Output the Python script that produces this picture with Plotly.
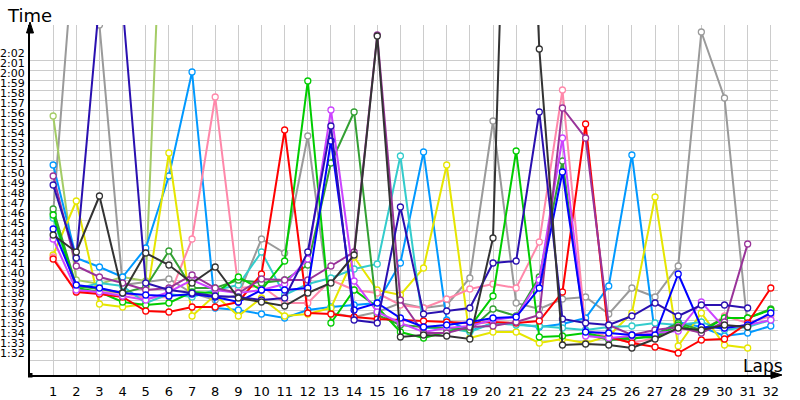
import plotly.graph_objects as go

laps = list(range(1, 33))

red = [102.1,98.8,98.6,98.3,96.9,96.8,97.3,97.3,97.8,100.6,115.0,96.7,96.6,96.3,96.1,96.0,95.9,95.8,95.7,95.8,95.7,95.9,98.8,115.6,94.3,93.7,93.3,92.7,94.0,94.1,95.7,99.2]
green = [106.5,99.2,98.8,97.8,97.5,97.7,98.8,98.7,100.3,99.0,101.9,119.9,95.7,99.0,97.3,94.8,94.2,94.8,95.3,98.4,112.9,94.3,94.4,94.7,94.2,94.2,94.3,95.5,94.8,96.2,96.2,97.0]
dark_green = [107.1,99.4,99.1,98.7,99.3,102.9,99.2,99.2,100.0,99.7,100.0,101.5,111.7,116.8,96.5,95.5,95.3,95.2,95.0,97.1,96.4,100.3,111.9,94.6,94.0,94.1,94.5,95.7,95.0,96.2,96.2,97.1]
blue = [105.1,99.5,99.2,98.7,98.5,98.4,98.6,98.3,97.8,99.0,99.0,99.2,113.9,97.0,97.7,96.2,95.3,95.5,95.8,96.2,96.3,99.2,110.8,94.8,94.7,94.5,94.5,100.6,95.3,95.2,95.5,96.7]
navy = [109.5,102.2,128.0,127.5,99.7,99.0,98.7,98.4,98.3,98.0,98.2,102.8,115.4,96.0,95.7,107.3,96.6,96.9,97.2,101.7,101.9,116.8,96.1,95.7,95.5,96.4,97.7,96.4,97.5,97.5,97.2]
yellow_green = [116.4,100.0,99.6,100.3,99.9,156.2]
light_blue = [111.5,102.2,101.3,100.3,103.2,110.4,120.8,97.2,97.0,96.6,96.2,97.0,97.3,97.5,97.7,101.7,112.8,96.0,94.9,95.7,95.6,95.3,95.6,96.2,99.4,112.5,94.5,95.8,95.3,94.4,94.7,95.4]
cyan = [106.2,99.1,99.7,99.4,97.7,98.6,98.3,99.0,99.5,102.8,98.5,99.6,100.2,101.1,101.6,112.4,95.2,95.2,94.8,95.7,95.5,95.4,95.2,95.0,95.3,95.4,95.7,95.5,95.8,95.0,95.3,96.0]
yellow = [102.5,107.9,97.6,97.3,97.6,112.7,96.4,98.5,96.4,98.2,96.4,96.6,97.2,102.3,99.0,98.5,101.2,111.5,94.2,94.8,94.8,93.7,94.1,93.7,94.4,96.7,108.3,93.4,96.7,93.5,93.2]
pink = [102.3,98.8,98.8,98.7,98.2,98.3,104.1,118.3,99.2,99.4,97.7,97.7,100.0,99.0,98.7,97.5,97.2,98.1,99.1,99.6,99.2,103.8,119.0,95.0,94.3,93.7,94.2,95.2,94.8,96.4,95.7,96.4]
violet = [104.1,99.0,98.8,98.4,98.0,98.8,100.0,99.0,98.7,99.0,99.6,102.1,117.0,99.9,96.8,95.7,94.8,95.2,95.4,96.0,96.3,100.0,114.2,94.4,94.2,94.4,94.7,94.9,97.8,95.2,95.5,96.0]
dark_purple = [110.4,101.4,100.3,99.7,99.0,99.2,100.5,99.2,98.7,100.1,100.0,100.0,101.4,102.8,124.5,98.0,94.7,94.7,95.3,95.4,95.8,96.5,117.2,114.2,95.5,94.5,95.0,95.3,94.7,95.8,103.6]
gray = [106.7,136.2,125.5,99.5,99.8,100.1,98.7,98.0,98.5,104.1,102.7,114.4,96.7,96.3,96.8,97.7,97.2,97.5,100.2,115.9,97.7,97.1,98.1,98.3,96.6,99.2,98.3,101.4,124.8,118.2,95.3]
dark_gray = [104.5,102.8,108.4,98.7,102.7,101.5,99.7,101.3,98.2,97.8,97.4,98.7,99.7,102.5,124.4,94.3,94.5,94.4,94.1,104.2,178.0,123.1,93.5,93.6,93.5,93.2,94.1,95.2,95.0,95.5,95.3]

series = [
    ("Gray", gray, "#9a9a9a"),
    ("Yellow-green", yellow_green, "#a4cc66"),
    ("Light blue", light_blue, "#0099ff"),
    ("Yellow", yellow, "#e6e600"),
    ("Pink", pink, "#ff88aa"),
    ("Cyan", cyan, "#33cccc"),
    ("Dark green", dark_green, "#33a033"),
    ("Green", green, "#00cc00"),
    ("Red", red, "#ff0000"),
    ("Violet", violet, "#cc44ff"),
    ("Dark purple", dark_purple, "#993399"),
    ("Blue", blue, "#0000ff"),
    ("Navy", navy, "#2a10b0"),
    ("Dark gray", dark_gray, "#333333"),
]

tick_secs = list(range(92, 123))
tick_text = [f"{s // 60}:{s % 60:02d}" for s in tick_secs]

fig = go.Figure()
for name, vals, col in series:
    fig.add_trace(go.Scatter(
        x=laps[:len(vals)], y=vals, mode="lines+markers", name=name,
        line=dict(color=col, width=2),
        marker=dict(symbol="circle", size=6, color="white", line=dict(color=col, width=1.3)),
    ))

L, R, T, B = 30, 22, 25, 25
W = 800 - L - R
H = 400 - T - B

fig.update_layout(
    width=800, height=400,
    margin=dict(l=L, r=R, t=T, b=B, pad=0, autoexpand=False),
    paper_bgcolor="white", plot_bgcolor="white",
    showlegend=False,
    font=dict(family="DejaVu Sans", color="black"),
    xaxis=dict(range=[0, W / 23.15], tickvals=laps, ticktext=[str(l) for l in laps],
               showgrid=True, gridcolor="#cccccc", gridwidth=1, zeroline=False,
               showline=True, linecolor="black", linewidth=2, ticks="",
               automargin=False, ticklabelstandoff=3,
               tickfont=dict(size=13, family="DejaVu Sans")),
    yaxis=dict(range=[90.5, 125.5], tickvals=tick_secs, ticktext=tick_text,
               showgrid=True, gridcolor="#cccccc", gridwidth=1, zeroline=False,
               showline=True, linecolor="black", linewidth=2, ticks="",
               automargin=False, ticklabelshift=-7, ticklabelstandoff=1,
               tickfont=dict(size=11, family="DejaVu Sans")),
)

def px(x):
    return (x - L) / W

def py(y):
    return (400 - B - y) / H

fig.add_annotation(text="Time", x=px(5), y=py(15), xref="paper", yref="paper",
                   xanchor="left", yanchor="middle", showarrow=False,
                   font=dict(size=18, family="DejaVu Sans", color="black"))
fig.add_annotation(text="Laps", x=px(763), y=py(366), xref="paper", yref="paper",
                   xanchor="center", yanchor="middle", showarrow=False,
                   font=dict(size=17, family="DejaVu Sans", color="black"))

# axis arrowheads and origin marker
fig.add_shape(type="path", xref="paper", yref="paper",
              path=f"M {px(30)} {py(22)} L {px(26.5)} {py(33)} L {px(33.5)} {py(33)} Z",
              fillcolor="black", line=dict(color="black", width=1))
fig.add_shape(type="path", xref="paper", yref="paper",
              path=f"M {px(782)} {py(375)} L {px(771)} {py(371.5)} L {px(771)} {py(378.5)} Z",
              fillcolor="black", line=dict(color="black", width=1))
fig.add_shape(type="line", xref="paper", yref="paper",
              x0=px(776), x1=px(780), y0=py(375), y1=py(375), line=dict(color="black", width=2))
fig.add_shape(type="rect", xref="paper", yref="paper",
              x0=px(28), x1=px(32.5), y0=py(377.5), y1=py(373),
              fillcolor="black", line=dict(color="black", width=0))

fig.write_html("out.html")
